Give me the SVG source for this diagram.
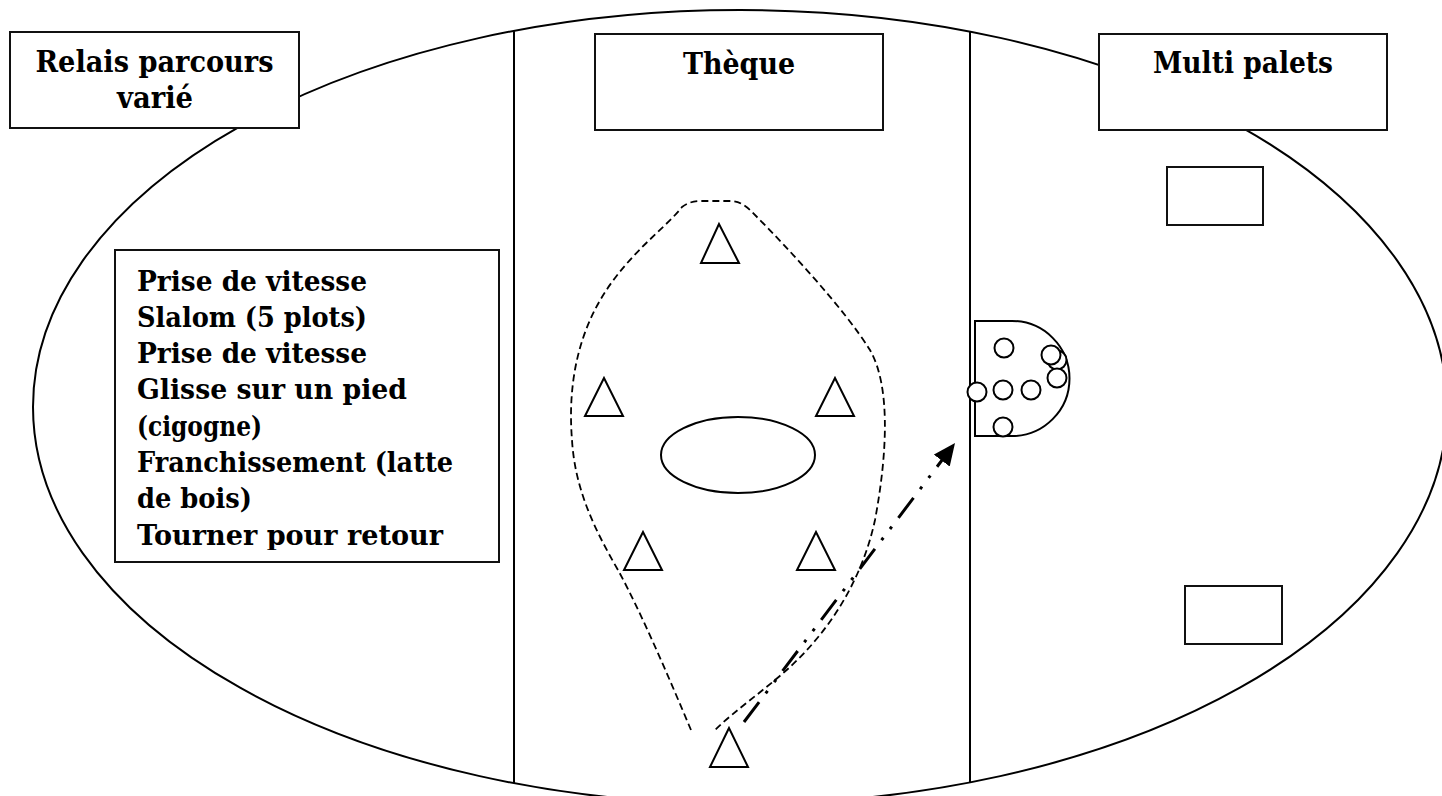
<svg xmlns="http://www.w3.org/2000/svg" width="1442" height="796" viewBox="0 0 1442 796">
  <style>
    .line { fill: none; stroke: #000; stroke-width: 2; }
    .box { fill: #fff; stroke: #111; stroke-width: 2; }
    .cone { fill: #fff; stroke: #000; stroke-width: 2; stroke-linejoin: miter; }
    .puck { fill: #fff; stroke: #000; stroke-width: 2; }
    .title { font-family: "DejaVu Serif", "Liberation Serif", serif; font-weight: bold; font-size: 30px; fill: #000; text-anchor: middle; }
    .step { font-family: "DejaVu Serif", "Liberation Serif", serif; font-weight: bold; font-size: 28px; fill: #000; }
    .route { fill: none; stroke: #000; stroke-width: 1.8; stroke-dasharray: 7 4; }
    .throw { fill: none; stroke: #000; stroke-width: 3; stroke-dasharray: 25 11 3 11 3 11; }
  </style>
  <defs>
    <marker id="head" markerUnits="userSpaceOnUse" markerWidth="22" markerHeight="20" refX="22" refY="10" orient="auto">
      <path d="M0,0 L22,10 L0,20 z" fill="#000"/>
    </marker>
    <clipPath id="stepsClip">
      <rect x="115" y="250" width="384" height="300"/>
    </clipPath>
  </defs>

  <rect width="1442" height="796" fill="#fff"/>

  <!-- playing field: oval split into three zones -->
  <g id="field">
    <ellipse class="line" cx="740" cy="407" rx="707" ry="397"/>
    <line class="line" x1="514" y1="31" x2="514" y2="783"/>
    <line class="line" x1="970" y1="32" x2="970" y2="782"/>
  </g>

  <!-- zone titles -->
  <g id="relais-title">
    <rect class="box" x="10" y="32" width="289" height="96"/>
    <text class="title" x="154.5" y="72" textLength="238" lengthAdjust="spacingAndGlyphs">Relais parcours</text>
    <text class="title" x="155" y="108" textLength="76" lengthAdjust="spacingAndGlyphs">varié</text>
  </g>
  <g id="theque-title">
    <rect class="box" x="595" y="34" width="288" height="96"/>
    <text class="title" x="739" y="74" textLength="112" lengthAdjust="spacingAndGlyphs">Thèque</text>
  </g>
  <g id="palets-title">
    <rect class="box" x="1099" y="34" width="288" height="96"/>
    <text class="title" x="1243" y="73" textLength="180" lengthAdjust="spacingAndGlyphs">Multi palets</text>
  </g>

  <!-- relay course steps -->
  <g id="relais-steps">
    <rect class="box" x="115" y="250" width="384" height="312"/>
    <g clip-path="url(#stepsClip)">
      <text class="step" x="137" y="290.5" textLength="230" lengthAdjust="spacingAndGlyphs">Prise de vitesse</text>
      <text class="step" x="137" y="326.8" textLength="230" lengthAdjust="spacingAndGlyphs">Slalom (5 plots)</text>
      <text class="step" x="137" y="363.1" textLength="230" lengthAdjust="spacingAndGlyphs">Prise de vitesse</text>
      <text class="step" x="137" y="399.4" textLength="270" lengthAdjust="spacingAndGlyphs">Glisse sur un pied</text>
      <text class="step" x="137" y="435.7" textLength="125" lengthAdjust="spacingAndGlyphs">(cigogne)</text>
      <text class="step" x="137" y="472" textLength="316" lengthAdjust="spacingAndGlyphs">Franchissement (latte</text>
      <text class="step" x="137" y="508.3" textLength="115" lengthAdjust="spacingAndGlyphs">de bois)</text>
      <text class="step" x="137" y="545" textLength="306" lengthAdjust="spacingAndGlyphs">Tourner pour retour</text>
    </g>
  </g>

  <!-- theque zone: base cones and central circle -->
  <g id="theque-bases">
    <polygon class="cone" points="719,224 701,263 739,263"/>
    <polygon class="cone" points="604,378 585,416 623,416"/>
    <polygon class="cone" points="835,378 816,416 854,416"/>
    <polygon class="cone" points="643,532 624,570 662,570"/>
    <polygon class="cone" points="816,532 797,570 835,570"/>
    <polygon class="cone" points="729,728 710,767 748,767"/>
  </g>
  <g id="theque-center">
    <ellipse class="line" cx="738" cy="455" rx="77" ry="38"/>
  </g>

  <!-- multi palets zone -->
  <g id="palets-target-top">
    <rect class="box" x="1167" y="167" width="96" height="58"/>
  </g>
  <g id="palets-target-bottom">
    <rect class="box" x="1185" y="586" width="97" height="58"/>
  </g>
  <g id="palets-zone">
    <path class="line" d="M975,321 L1012,321 A57.5,57.5 0 0 1 1012,436 L975,436 Z"/>
    <circle class="puck" cx="1004" cy="348" r="9.5"/>
    <circle class="puck" cx="1057" cy="360" r="9.5"/>
    <circle class="puck" cx="1051" cy="355" r="9.5"/>
    <circle class="puck" cx="1057" cy="378" r="9.5"/>
    <circle class="puck" cx="1003" cy="390" r="9.5"/>
    <circle class="puck" cx="1031" cy="390" r="9.5"/>
    <circle class="puck" cx="977" cy="392" r="9.5"/>
    <circle class="puck" cx="1003" cy="427" r="9.5"/>
  </g>

  <!-- runner route and throw direction -->
  <g id="connectors">
    <path class="route" d="M691,730 C670,680 640,610 618,570 C595,530 575,490 572,440 C568,390 575,330 615,278 C640,245 668,225 682,207 Q690,201 700,201 L730,201 Q742,201 752,212 C790,250 845,310 870,350 C890,385 888,450 875,520 C862,580 830,630 790,667 C765,690 735,710 714,731"/>
    <line class="throw" x1="744" y1="722" x2="955" y2="443" marker-end="url(#head)"/>
  </g>
</svg>
